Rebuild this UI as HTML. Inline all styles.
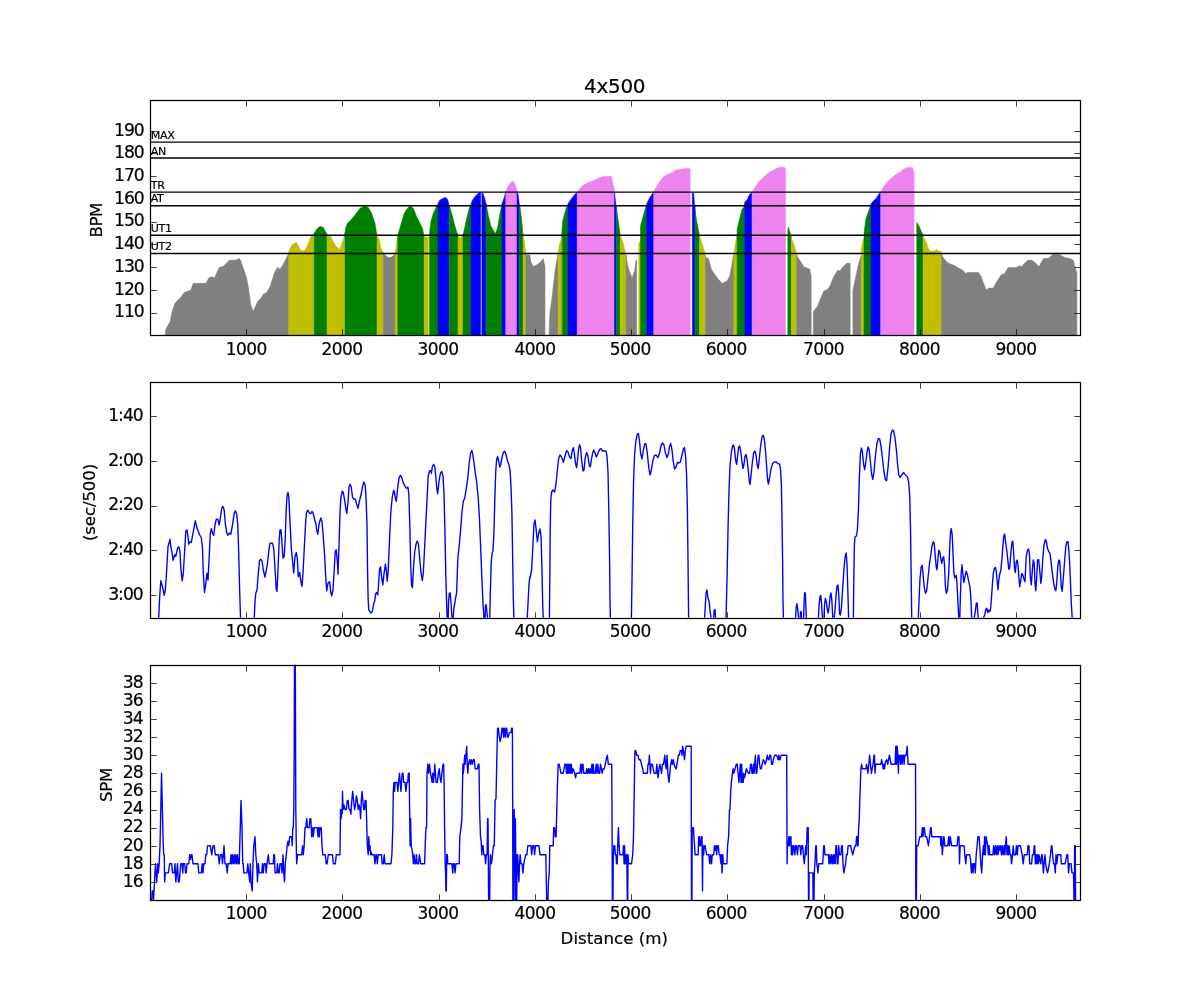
<!DOCTYPE html>
<html><head><meta charset="utf-8"><title>4x500</title><style>html,body{margin:0;padding:0;background:#fff}</style></head><body>
<svg width="1200" height="1000" viewBox="0 0 1200 1000" style="display:block;font-family:'DejaVu Sans','Liberation Sans',sans-serif"><style>text{stroke:#000;stroke-width:0.2px}</style>
<defs><clipPath id="c1"><rect x="150.0" y="100.0" width="930.0" height="235.3"/></clipPath><clipPath id="c2"><rect x="150.0" y="382.4" width="930.0" height="235.3"/></clipPath><clipPath id="c3"><rect x="150.0" y="664.7" width="930.0" height="235.3"/></clipPath></defs>
<rect width="1200" height="1000" fill="#fff"/>
<g clip-path="url(#c1)"><path d="M165,335.3 L165,335 L165.8,329.2 L170,321.7 L172,311.7 L175,303.3 L176.7,301.3 L180,298.3 L184.2,292.5 L190.8,290 L193.3,283.3 L205.8,283.3 L209.2,277.5 L212.5,276.7 L214.2,278.3 L219.2,267.5 L223.3,266.3 L229.2,260.3 L236.7,260 L239.2,258.3 L240.8,260.8 L246.7,278.3 L248.3,286.7 L250.8,305 L253.3,311.3 L257.5,301.7 L260.8,298.3 L263.3,294.2 L266.7,292.5 L270,286.7 L274.2,273.3 L277.5,267.2 L280,269.2 L283.3,264.2 L288.3,254.2 L288.8,254.2 L288.8,335.3Z" fill="#808080" stroke="#808080" stroke-width="0.5"/><path d="M288.8,335.3 L288.8,251.7 L291.7,245 L296.3,242.2 L298.3,245.8 L300.8,250.8 L305,250.8 L307.5,245 L310.8,236.7 L313.7,234.2 L313.8,234.2 L313.8,335.3Z" fill="#bfbf00" stroke="#bfbf00" stroke-width="0.5"/><path d="M313.8,335.3 L313.8,233.8 L316.7,229.2 L320,226.3 L323.3,227.5 L327,234.2 L327,234.2 L327,335.3Z" fill="#008000" stroke="#008000" stroke-width="0.5"/><path d="M327,335.3 L327,234.3 L330.8,236.7 L335,245 L339.2,249.2 L340,249.2 L340,335.3Z" fill="#bfbf00" stroke="#bfbf00" stroke-width="0.5"/><path d="M340,335.3 L340,248.3 L343.3,239.2 L344.5,235.3 L344.5,235.3 L344.5,335.3Z" fill="#bfbf00" stroke="#bfbf00" stroke-width="0.5"/><path d="M344.5,335.3 L344.5,235 L345.8,227.5 L347.5,223.3 L350.8,220 L355,215 L360,208.3 L365,205.8 L368.3,207.5 L371.7,213.3 L375,223.3 L376.8,234.2 L377,234.2 L377,335.3Z" fill="#008000" stroke="#008000" stroke-width="0.5"/><path d="M377,335.3 L377,234.7 L379.2,240 L381.7,250 L383.3,252.5 L383.3,252.5 L383.3,335.3Z" fill="#bfbf00" stroke="#bfbf00" stroke-width="0.5"/><path d="M383.3,335.3 L383.3,252.8 L385,255 L388.3,257.5 L391.7,257 L394.7,254.2 L395,254.2 L395,335.3Z" fill="#808080" stroke="#808080" stroke-width="0.5"/><path d="M395,335.3 L395,253.3 L395.8,248.3 L397.5,236.7 L397.8,236.7 L397.8,335.3Z" fill="#bfbf00" stroke="#bfbf00" stroke-width="0.5"/><path d="M397.8,335.3 L397.8,235.3 L398.3,233.3 L401.7,221.7 L404.2,213.3 L406.7,209.2 L410,205.8 L413.3,208.3 L416.7,216.7 L420,223.3 L422.5,228.3 L423.8,235 L424.2,235 L424.2,335.3Z" fill="#008000" stroke="#008000" stroke-width="0.5"/><path d="M424.2,335.3 L424.2,235.3 L425,236.7 L427.5,237.5 L428.5,236.7 L429.2,236.7 L429.2,335.3Z" fill="#bfbf00" stroke="#bfbf00" stroke-width="0.5"/><path d="M429.2,335.3 L429.2,234.2 L429.5,233.3 L430.8,221.7 L433.3,213.3 L436.7,205.8 L438,205.8 L438,335.3Z" fill="#008000" stroke="#008000" stroke-width="0.5"/><path d="M438,335.3 L438,203.3 L438.3,202.5 L440,200 L445,197.2 L447.5,199.2 L449.2,205 L449.2,205 L449.2,335.3Z" fill="#0000ff" stroke="#0000ff" stroke-width="0.5"/><path d="M449.2,335.3 L449.2,205.3 L451.7,213.3 L454.2,223.3 L456.7,231.7 L458,235 L458,235 L458,335.3Z" fill="#008000" stroke="#008000" stroke-width="0.5"/><path d="M458,335.3 L458,235.3 L459.2,236.7 L460.3,238.3 L462.5,235.8 L463,235.8 L463,335.3Z" fill="#bfbf00" stroke="#bfbf00" stroke-width="0.5"/><path d="M463,335.3 L463,235 L464.2,230 L466.7,218.3 L469.2,208.3 L470.8,205 L470.8,205 L470.8,335.3Z" fill="#008000" stroke="#008000" stroke-width="0.5"/><path d="M470.8,335.3 L470.8,204.7 L472.5,200 L475.8,195.8 L479.2,192.2 L482.5,192.5 L484.2,196.7 L486.2,204.2 L486.2,204.2 L486.2,335.3Z" fill="#0000ff" stroke="#0000ff" stroke-width="0.5"/><path d="M486.2,335.3 L486.2,204.5 L488.3,215 L490.8,225.8 L493.3,230 L495.3,233.7 L497.5,228.3 L500,213.3 L502,204.2 L502,204.2 L502,335.3Z" fill="#008000" stroke="#008000" stroke-width="0.5"/><path d="M502,335.3 L502,203.8 L504.2,197.5 L505.8,191.7 L505.8,191.7 L505.8,335.3Z" fill="#0000ff" stroke="#0000ff" stroke-width="0.5"/><path d="M505.8,335.3 L505.8,191.3 L508.3,185.8 L512.5,180.8 L514.2,182.5 L515.8,186.7 L517,190.8 L517,190.8 L517,335.3Z" fill="#ee82ee" stroke="#ee82ee" stroke-width="0.5"/><path d="M517,335.3 L517,191.2 L518.3,195 L519.2,203.3 L519.2,203.3 L519.2,335.3Z" fill="#0000ff" stroke="#0000ff" stroke-width="0.5"/><path d="M519.2,335.3 L519.2,203.7 L520,206.7 L521.7,220 L523,235 L523,235 L523,335.3Z" fill="#008000" stroke="#008000" stroke-width="0.5"/><path d="M523,335.3 L523,235.3 L524.2,240 L525.3,248.3 L525.8,253.3 L525.8,253.3 L525.8,335.3Z" fill="#bfbf00" stroke="#bfbf00" stroke-width="0.5"/><path d="M525.8,335.3 L525.8,253.7 L526.7,255 L530,255 L530,335.3Z" fill="#808080" stroke="#808080" stroke-width="0.5"/><path d="M530,335.3 L530,256.8 L530.9,262.1 L533.5,266.5 L537,264.7 L540.6,262.1 L543.2,258.6 L544.4,263.8 L545,265.6 L545,265.6 L545,335.3Z" fill="#808080" stroke="#808080" stroke-width="0.5"/><path d="M549,335.3 L549,335.1 L549.7,314.9 L552,297.3 L553.8,281.4 L555.5,267.4 L557.8,255 L558.2,255 L558.2,335.3Z" fill="#808080" stroke="#808080" stroke-width="0.5"/><path d="M558.2,335.3 L558.2,251.5 L559.9,242.7 L561,240.1 L561.7,240.1 L561.7,335.3Z" fill="#bfbf00" stroke="#bfbf00" stroke-width="0.5"/><path d="M561.7,335.3 L561.7,234.8 L562.6,221.6 L564.3,214.6 L566.1,208.4 L567.5,204.9 L567.8,204.9 L567.8,335.3Z" fill="#008000" stroke="#008000" stroke-width="0.5"/><path d="M567.8,335.3 L567.8,204 L571.4,198.7 L574.9,194.3 L577,192.6 L577.2,192.6 L577.2,335.3Z" fill="#0000ff" stroke="#0000ff" stroke-width="0.5"/><path d="M577.2,335.3 L577.2,192 L580.2,188.2 L582.8,185.5 L587.2,182.9 L592.5,181.1 L597.8,178.5 L603,176.4 L611.3,176.2 L612,179.4 L614.1,189 L614.5,189 L614.5,335.3Z" fill="#ee82ee" stroke="#ee82ee" stroke-width="0.5"/><path d="M614.5,335.3 L614.5,192.6 L615.4,200.5 L616.2,206.1 L616.4,206.1 L616.4,335.3Z" fill="#0000ff" stroke="#0000ff" stroke-width="0.5"/><path d="M616.4,335.3 L616.4,206.8 L617.1,212.8 L618.9,225.1 L620.1,234.8 L620.3,234.8 L620.3,335.3Z" fill="#008000" stroke="#008000" stroke-width="0.5"/><path d="M620.3,335.3 L620.3,235.3 L621.5,238.3 L623.3,243.6 L625,250.6 L625.9,254.2 L626.1,254.2 L626.1,335.3Z" fill="#bfbf00" stroke="#bfbf00" stroke-width="0.5"/><path d="M626.1,335.3 L626.1,255 L626.4,258.6 L628.6,269.1 L632.1,278.3 L634.7,270 L636.1,259.4 L636.7,260.3 L636.7,260.3 L636.7,335.3Z" fill="#808080" stroke="#808080" stroke-width="0.5"/><path d="M638.8,335.3 L638.8,335.1 L638.8,242.7 L640.5,241.8 L640.5,241.8 L640.5,335.3Z" fill="#bfbf00" stroke="#bfbf00" stroke-width="0.5"/><path d="M640.5,335.3 L640.5,226.9 L640.9,224.2 L642.6,218.1 L645.3,208.4 L646.2,206.1 L646.5,206.1 L646.5,335.3Z" fill="#008000" stroke="#008000" stroke-width="0.5"/><path d="M646.5,335.3 L646.5,204.9 L647,203.1 L649.7,197.8 L653.2,192.6 L653.7,192.6 L653.7,335.3Z" fill="#0000ff" stroke="#0000ff" stroke-width="0.5"/><path d="M653.7,335.3 L653.7,191.7 L656.7,186.4 L661.1,179.4 L664.6,175.8 L670.8,173.2 L677,169.7 L683.1,168.8 L689.3,168.4 L690.2,169.7 L690.2,169.7 L690.2,335.3Z" fill="#ee82ee" stroke="#ee82ee" stroke-width="0.5"/><path d="M692.3,335.3 L692.3,335.1 L692.3,192.6 L693.7,193.4 L694.6,205.8 L695.1,205.8 L695.1,335.3Z" fill="#0000ff" stroke="#0000ff" stroke-width="0.5"/><path d="M695.1,335.3 L695.1,209.3 L695.4,212.8 L697.2,223.4 L699.3,234.8 L699.5,234.8 L699.5,335.3Z" fill="#008000" stroke="#008000" stroke-width="0.5"/><path d="M699.5,335.3 L699.5,235.7 L700.7,239.2 L703.4,248 L705.1,253.3 L705.3,253.3 L705.3,335.3Z" fill="#bfbf00" stroke="#bfbf00" stroke-width="0.5"/><path d="M705.3,335.3 L705.3,255 L706,257.7 L708.6,258.6 L711.3,269.1 L714.8,274.4 L719.2,280.6 L720,280.6 L720,335.3Z" fill="#808080" stroke="#808080" stroke-width="0.5"/><path d="M720,335.3 L720,281.4 L722.6,283.2 L727,281.1 L729.7,276.2 L731.4,267.4 L733.2,255.9 L733.7,255 L733.9,255 L733.9,335.3Z" fill="#808080" stroke="#808080" stroke-width="0.5"/><path d="M733.9,335.3 L733.9,252.4 L735.8,241 L737.1,233.9 L737.1,233.9 L737.1,335.3Z" fill="#bfbf00" stroke="#bfbf00" stroke-width="0.5"/><path d="M737.1,335.3 L737.1,229.5 L739.4,219.8 L742,209.3 L743.8,207.2 L744.3,206.1 L744.6,206.1 L744.6,335.3Z" fill="#008000" stroke="#008000" stroke-width="0.5"/><path d="M744.6,335.3 L744.6,202.2 L747.3,199.6 L749,195.2 L751.7,192.6 L752,192.6 L752,335.3Z" fill="#0000ff" stroke="#0000ff" stroke-width="0.5"/><path d="M752,335.3 L752,192 L752.6,191.3 L755.2,187.3 L758.7,182 L764,176.7 L769.3,172.3 L774.6,169.2 L779,167.4 L784.2,167 L785.5,168.8 L785.5,168.8 L785.5,335.3Z" fill="#ee82ee" stroke="#ee82ee" stroke-width="0.5"/><path d="M787.8,335.3 L787.8,335.1 L787.8,230.4 L788.3,226.9 L790.4,233.9 L791.3,237.1 L791.3,237.1 L791.3,335.3Z" fill="#008000" stroke="#008000" stroke-width="0.5"/><path d="M791.3,335.3 L791.3,237.4 L793.9,244.5 L796.6,253.3 L796.7,253.3 L796.7,335.3Z" fill="#bfbf00" stroke="#bfbf00" stroke-width="0.5"/><path d="M796.7,335.3 L796.7,254.2 L797.4,256.8 L801,262.1 L803.6,266.5 L807.1,268.2 L809.8,269.1 L811.2,276.2 L811.2,276.2 L811.2,335.3Z" fill="#808080" stroke="#808080" stroke-width="0.5"/><path d="M813.3,335.3 L813.3,335.1 L813.3,311.4 L817.7,306.1 L820.3,299 L823.8,291.1 L827.4,289.4 L830,285.8 L833.5,277 L837.9,270 L839.7,270.9 L843.2,266.5 L846.7,263.3 L849.9,263.3 L850.2,263.3 L850.2,335.3Z" fill="#808080" stroke="#808080" stroke-width="0.5"/><path d="M852.9,335.3 L852.9,335.1 L852.9,290.2 L855.5,277.9 L858.2,265.6 L860.4,257.7 L861,255.9 L861.3,255.9 L861.3,335.3Z" fill="#808080" stroke="#808080" stroke-width="0.5"/><path d="M861.3,335.3 L861.3,248 L861.7,246.2 L863.4,239.2 L864,239.2 L864,335.3Z" fill="#bfbf00" stroke="#bfbf00" stroke-width="0.5"/><path d="M864,335.3 L864,233.9 L864.3,230.4 L866.1,218.1 L868.7,211 L870.5,206.1 L870.8,206.1 L870.8,335.3Z" fill="#008000" stroke="#008000" stroke-width="0.5"/><path d="M870.8,335.3 L870.8,204.9 L871.4,203.1 L874,200.5 L876.6,197.8 L879.3,193.4 L880.5,192.2 L880.7,192.2 L880.7,335.3Z" fill="#0000ff" stroke="#0000ff" stroke-width="0.5"/><path d="M880.7,335.3 L880.7,191.7 L881,191.3 L884.6,185.5 L889,180.2 L894.2,175.8 L899.5,172.3 L900,172.3 L900,335.3Z" fill="#ee82ee" stroke="#ee82ee" stroke-width="0.5"/><path d="M900,335.3 L900,172.3 L903.5,169.2 L907.9,167.4 L912.3,167.4 L913.7,170.6 L914.1,172.3 L914.1,172.3 L914.1,335.3Z" fill="#ee82ee" stroke="#ee82ee" stroke-width="0.5"/><path d="M916.7,335.3 L916.7,335.1 L916.7,223.4 L917.1,222.5 L919.4,226.9 L922,233 L922.9,234.8 L923.1,234.8 L923.1,335.3Z" fill="#008000" stroke="#008000" stroke-width="0.5"/><path d="M923.1,335.3 L923.1,235.3 L923.8,237.4 L926.4,242.7 L929,249.8 L931.7,251.5 L935.2,250.6 L937,249.4 L938.7,251.5 L941.4,251.5 L941.5,251.5 L941.5,335.3Z" fill="#bfbf00" stroke="#bfbf00" stroke-width="0.5"/><path d="M941.5,335.3 L941.5,253.3 L942.2,255.9 L946.6,262.1 L951,264.2 L954.6,265.6 L959,268.2 L962.5,270 L966,273.5 L967.8,272.3 L975.7,272.6 L978.3,272.3 L981,276.2 L983.6,283.2 L986.2,289.9 L988.9,288.1 L993.3,288.1 L996.8,281.4 L1001.2,274.8 L1004.7,273.5 L1008.2,267.4 L1016.2,267.4 L1019.7,265.6 L1021.4,267 L1024.1,263.8 L1027.6,260.3 L1032,260.3 L1035.5,263 L1039,266.5 L1043.4,258.6 L1048.7,258.2 L1053.1,254.2 L1059.3,254.2 L1061.9,255.9 L1065.4,257.7 L1069.8,258.6 L1073.4,260.3 L1075.1,267.4 L1076.9,272.6 L1076.9,272.6 L1076.9,335.3Z" fill="#808080" stroke="#808080" stroke-width="0.5"/><line x1="313.8" x2="313.8" y1="234.5" y2="335.3" stroke="#fff" stroke-opacity="0.45" stroke-width="0.8"/><line x1="344.6" x2="344.6" y1="237" y2="335.3" stroke="#fff" stroke-opacity="0.45" stroke-width="0.8"/><line x1="428.8" x2="428.8" y1="236.5" y2="335.3" stroke="#fff" stroke-opacity="0.8" stroke-width="0.8"/><line x1="481.2" x2="481.2" y1="192" y2="335.3" stroke="#fff" stroke-opacity="0.9" stroke-width="0.8"/><line x1="562" x2="562" y1="238" y2="335.3" stroke="#fff" stroke-opacity="0.45" stroke-width="0.8"/></g>
<line x1="150.0" x2="1080.0" y1="142.1" y2="142.1" stroke="#000" stroke-width="1.39"/>
<text x="150.7" y="138.6" font-size="11.1" letter-spacing="-0.3">MAX</text>
<line x1="150.0" x2="1080.0" y1="158" y2="158" stroke="#000" stroke-width="1.39"/>
<text x="150.7" y="154.6" font-size="11.1" letter-spacing="-0.3">AN</text>
<line x1="150.0" x2="1080.0" y1="192.1" y2="192.1" stroke="#000" stroke-width="1.39"/>
<text x="150.7" y="188.7" font-size="11.1" letter-spacing="-0.3">TR</text>
<line x1="150.0" x2="1080.0" y1="205.7" y2="205.7" stroke="#000" stroke-width="1.39"/>
<text x="150.7" y="202.3" font-size="11.1" letter-spacing="-0.3">AT</text>
<line x1="150.0" x2="1080.0" y1="235.3" y2="235.3" stroke="#000" stroke-width="1.39"/>
<text x="150.7" y="231.9" font-size="11.1" letter-spacing="-0.3">UT1</text>
<line x1="150.0" x2="1080.0" y1="253.5" y2="253.5" stroke="#000" stroke-width="1.39"/>
<text x="150.7" y="250" font-size="11.1" letter-spacing="-0.3">UT2</text>
<g clip-path="url(#c2)"><path d="M158.3,630 L158.7,618 L159.7,596.7 L160.8,580.8 L162,585 L163,589.2 L164.2,595.3 L165.3,590 L166.7,570 L168,546.7 L170,539.2 L170.8,546.7 L172.2,553.3 L173,560.3 L174.7,554.7 L175.8,556.3 L177.5,548.3 L178.8,546.7 L180,551.7 L180.8,568.3 L182.2,580.8 L183.3,573.3 L184.7,550 L185.8,531.3 L187,530 L188,536.7 L188.8,544.2 L190,541.7 L191.3,542.5 L193,533.3 L194.2,526.7 L195.3,520.8 L196.7,526.7 L198,530.8 L199.7,535 L201.3,537.5 L202.5,548.3 L203.3,573.3 L204.5,592.5 L205.8,583.3 L207,573.3 L208,580 L209.2,556.7 L210.3,533.3 L211.3,528.7 L212.5,533.3 L213.7,535.3 L215,525 L216.3,519.2 L217.8,519.2 L219.2,525 L220.3,518.3 L221.7,508.3 L222.8,506.3 L224.2,510 L225.3,523.3 L226.7,532.5 L227.8,535.3 L229.7,533 L230.8,534.2 L232.5,525 L234.2,513.3 L235.3,510.8 L236.7,513.7 L237.8,525 L238.8,556.7 L239.7,591.7 L240.5,618 L240.8,630 M253.7,630 L254.2,618 L255,601.7 L255.8,593.3 L257,590 L258.3,573.3 L259.5,560.8 L260.8,559.2 L262,560.8 L263.3,570 L265,577 L266.2,570.8 L267.5,563.3 L268.7,551.7 L270,543.3 L272.5,543.3 L273.7,548.3 L275,568.3 L276.2,589.2 L277,591.3 L278,570 L279.2,540 L280,530 L281,530 L282,543.3 L283,558 L284.2,556.7 L285.3,536.7 L286.3,506.7 L287.2,495 L288,492.5 L288.8,496.7 L290,521.7 L291.3,548.3 L292.5,560 L293.7,573 L295,556.7 L296.3,552.5 L297.3,558.3 L298.3,576.7 L299.7,572.5 L300.8,580.8 L302,586.3 L303,573.3 L304.7,540 L305.8,520 L306.7,511.7 L308,510.3 L309.7,513.3 L310.8,513.7 L312,511.3 L313.3,513.7 L314.7,520 L315.8,523.3 L316.7,530 L317.8,534.2 L319.2,523.3 L320.8,518 L322,521.7 L323.3,536.7 L324.7,556.7 L325.8,578.3 L326.7,590.8 L328,583.3 L329.7,581.7 L330.8,592.5 L331.7,595.8 L333,590 L334.2,570 L335.3,550.8 L336.3,550 L337.5,563.3 L338,574.2 L339.2,540 L340,512 L340.9,497.6 L342.2,491.3 L343.2,492.2 L344.5,499.4 L345.8,508.4 L346.8,513.4 L348.1,501.2 L349,486.8 L349.9,484.1 L351.2,486.8 L352.6,497.6 L354,499.4 L355.3,499 L356.6,503.9 L358,508.4 L359.4,501.2 L361.2,494 L362.5,486.8 L363.9,481.9 L365.2,485 L366.1,499.4 L367,524.6 L367.5,566 L368.1,598.4 L368.8,610.1 L370.2,611.9 L371.1,613.2 L372.4,611 L373.7,603.8 L374.7,601.1 L375.6,593.9 L376.5,592.6 L377.8,594.8 L378.7,582.2 L379.6,568.7 L380.5,566.9 L381.8,578.6 L382.8,584.9 L384.1,573.2 L385.4,564.2 L386.4,571.4 L387.2,581.3 L388.2,571.4 L389.5,540.8 L390.8,512 L392.2,497.6 L393.6,490.4 L394.5,492.2 L395.4,498.5 L396.3,501.2 L397.6,488.6 L399,477.8 L400.3,475.6 L401.6,476.9 L403,482.3 L404.8,485.9 L406.2,488.2 L407.9,487.2 L408.8,494 L409.8,524.6 L410.7,566 L411.6,585.8 L412.4,587.6 L413.4,569.6 L414.7,551.6 L416,544.4 L417,541.2 L418.3,543.5 L419.6,557 L421,573.2 L422.3,580.4 L423.3,573.2 L424.6,548 L426,519.2 L427.3,494 L428.2,476 L429.5,471 L430.5,470.6 L431.4,473.3 L432.3,467 L433.6,464.3 L434.9,467 L435.9,477.8 L436.8,488.6 L437.7,493.6 L439,481.4 L440.4,473.3 L441.7,471.5 L443,476 L444,494 L444.9,530 L445.8,575 L446.6,602 L447.1,618.2 L447.5,625.4 L448.2,618.2 L448.5,602 L449.3,593.4 L450.2,593 L451.1,603.8 L452,618.2 L452.5,625.4 L453.2,618.2 L453.8,609.2 L455.2,600.2 L456.6,593 L457.9,557 L459.2,546.2 L460.6,530 L462,512 L463.3,501.2 L464.6,498.5 L466,490.4 L467.8,477.8 L469.2,463.4 L470.5,453.5 L471.8,450.4 L472.8,454.4 L474.1,463.4 L475.4,474.2 L476.4,479.6 L478.2,497.6 L479.5,519.2 L480.8,551.6 L481.8,576.8 L483.1,605.6 L484,618.2 L484.5,625.4 L485.1,618.2 L485.4,605.6 L486.2,604.7 L486.9,612.8 L487.6,618.2 L488.7,638 L489.8,618.2 L490.3,593 L491.2,562.4 L492.1,553.4 L493,550.7 L493.9,533.6 L494.8,499.4 L495.7,472.4 L496.6,459.8 L497.7,456.6 L498.8,461.6 L499.8,467 L500.7,464.8 L502,457.1 L503.3,452.6 L504.7,451.3 L506,454.4 L507.4,460.7 L508.8,464.3 L510.1,470.6 L511,486.8 L511.9,512 L512.8,566 L513.3,598.4 L513.9,618.2 L514.2,638 M526.8,638 L527.2,618.2 L528.1,602 L529,584 L529.9,576.8 L530,578 L531.6,570 L533,544 L534,524 L535,520 L536,528 L537.4,541.6 L538.6,534 L540,529 L541,536 L542,570 L542.6,600 L543.2,618 L543.6,640 M549,640 L549.4,618 L549.8,580 L550.2,530 L550.8,500 L551.6,492 L553,490 L554.6,492 L556,484 L557.4,470 L558.6,459 L560,455 L561.6,457 L563.4,462.4 L565,456 L566.6,450.6 L568,452 L569.6,457 L571,458.4 L572.4,450 L573.4,447.6 L574.4,454 L575.6,464 L576.6,467.6 L577.6,460 L578.6,449 L579.6,444.6 L580.6,448 L581.6,460 L583,471 L584,470 L585.2,458 L586.6,452.4 L588,456 L589.2,465 L590.2,467 L591.4,460 L592.6,453 L593.8,450 L595,453 L596.4,457 L598,453 L599.6,449.6 L601,448.6 L602.6,451 L606,451 L607,456 L608,472 L608.8,510 L609.6,560 L610,600 L610.4,618 L610.6,640 M631.2,640 L631.4,618 L632,580 L632.8,520 L633.6,480 L634.6,454 L636,440 L637.4,434 L638.4,433.6 L639.4,440 L640.6,453 L642,459 L643.4,450 L644.8,443.6 L646,444 L647.4,454 L648.8,468 L650,475 L651.4,470 L653,460 L654.4,455.6 L656,455 L658,457.6 L659.6,453 L661.2,445 L662.6,443 L664,445 L665.4,453 L667,457.6 L668.4,454 L669.6,446 L670.8,443.6 L672,450 L673.2,461 L674.6,469 L676,467 L677.4,462.4 L679,463 L680.4,462 L682,455 L683.4,449 L684.4,447.6 L685.6,456 L686.6,476 L687.4,510 L688,560 L688.6,618 L688.8,640 M704.2,640 L704.6,618 L705.4,604 L706.2,592 L707,590 L708,598 L709,601 L710,610 L711,618 L712,632 L713.6,618 L714.2,610 L715,609.6 L715.6,618 L716,640 L725.8,640 L726,618 L727,580 L728,530 L729,490 L730,466 L731.4,452 L732.6,445.6 L733.6,445 L734.6,450 L735.6,460 L736.6,464.4 L737.6,456 L738.6,447 L739.6,446 L740.8,452 L742,462 L743,468.6 L744,464 L745,456 L746,454.4 L747.2,460 L748.4,472 L749.4,482 L750,484.4 L751,476 L752.4,462 L753.6,453 L755,451 L756,455 L757.2,465 L758.2,468.6 L759.2,460 L760.6,446 L762,437 L763.2,435 L764.4,440 L765.6,452 L766.6,466 L767.6,480 L768.4,484 L769.6,478 L771,469 L772.6,463.6 L774.4,462 L776,461.6 L777.6,463.6 L779.6,464 L780.6,470 L781.4,486 L782,520 L782.6,560 L783,600 L783.4,618 L783.6,640 M795.2,640 L795.6,618 L796.2,607 L797,603.6 L797.8,610 L798.6,618 L799.4,628 L800.2,618 L800.6,611.6 L801.2,611.6 L801.6,618 L802.6,632 L803.6,618 L804.2,600 L804.8,592.4 L805.4,594 L806,610 L806.4,618 L806.8,640 M818,640 L818.4,618 L819.2,604 L820,596.4 L820.8,595.6 L821.6,604 L822.4,618 L823.2,628 L824,618 L824.6,604 L825.4,598.4 L826.4,602 L827.4,610 L828.2,613 L829.2,606 L830.2,596 L831,593 L831.8,600 L832.8,618 L833.4,626 L834.2,618 L835,610 L836,596 L837,586 L838,585 L838.8,596 L839.6,614 L840.4,615 L841.4,608 L842.6,590 L844,568 L845.2,556 L846.2,553 L847,564 L848,596 L848.6,618 L849,640 M853.2,640 L853.4,618 L853.8,580 L854.4,544 L855,537 L856.4,536 L857.4,530 L858.4,510 L859.4,476 L860.4,454 L861.4,448 L862.4,452 L863.6,464 L864.6,469.6 L865.6,464 L867,452 L868.2,447 L869.2,450 L870.4,462 L871.6,474 L872.8,479.4 L874,472 L875.4,456 L877,443 L878.4,438.4 L879.6,439 L881,446 L882.4,458 L884,472 L885.4,479.6 L886.6,480.6 L888,468 L889.6,448 L891,434 L892.4,430 L893.6,431 L895,438 L896.4,450 L897.6,464 L898.8,475 L900,477.5 L901.7,475 L903.7,472.5 L905.3,475 L907.5,477 L908.7,482.5 L909.7,495 L910.5,528.3 L911.2,578.3 L911.7,618 L911.8,630 M918.2,630 L918.3,618 L919.2,596.7 L920,578.3 L921.2,566.7 L922.2,565.3 L923,573.3 L924.2,586.7 L925.5,593.3 L926.7,590.8 L928,578.3 L929.5,563.3 L930.8,555 L932.2,545 L933.3,541.7 L934.2,543.3 L935,553.3 L936.2,566.7 L937,569.7 L938,558.3 L938.8,550.3 L939.7,551.7 L940.8,558.3 L941.7,563.3 L942.8,558.3 L943.7,556.7 L944.5,565 L945.3,585 L946.3,593.3 L947.5,590 L948.7,573.3 L949.7,548.3 L950.5,531.7 L951.3,528.7 L952.2,535 L953,553.3 L953.8,571.7 L954.7,578 L956.2,575.3 L957,583.3 L958,603.3 L958.8,618 L959.3,625 L959.8,618 L960.3,600 L961.2,573.3 L962,564.7 L962.8,573.3 L963.8,582.5 L965,576.7 L966.2,571.3 L967.5,575 L968.7,581.7 L970,586.7 L970.8,596.7 L971.7,618 L972.2,630 M973.7,630 L974.2,618 L975.3,611.7 L976.3,603.3 L977.2,603 L977.7,611.7 L978.3,618 L978.8,630 M982.8,630 L983.3,618 L984.7,615 L985.8,609.2 L986.7,608.3 L987.8,612.5 L988.8,610 L989.7,611.7 L990.7,608.3 L991.3,600 L992.5,583.3 L993.3,573.3 L994.5,568 L995.5,567.5 L996.3,571.7 L997.2,581.7 L998,589.7 L998.8,580 L999.7,574.2 L1000.8,570.8 L1002,558.3 L1003,545 L1003.8,535.8 L1004.7,534.2 L1005.5,541.7 L1006.7,550 L1007.8,560 L1008.8,569.2 L1009.7,568.3 L1010.8,553.3 L1012,542 L1012.8,541.3 L1013.7,553.3 L1014.5,568.3 L1015.3,572.5 L1016.3,561.7 L1017.2,560 L1018,565 L1018.8,576.7 L1019.7,586.7 L1020.8,580 L1021.7,573.7 L1022.5,574.2 L1023.7,578.3 L1025,581.7 L1026.2,556.7 L1027.5,550 L1028.7,549.2 L1029.5,555 L1030.3,576.7 L1031.3,584.7 L1032.5,568.3 L1033.3,560 L1034.2,563.3 L1035,583.3 L1035.8,590.8 L1036.7,578.3 L1037.5,560 L1038.7,559.7 L1039.7,570 L1040.8,583.3 L1041.7,576.7 L1042.8,558.3 L1044,545 L1045.3,539.7 L1046.3,540.8 L1047.5,548.3 L1048.8,551.7 L1050,553.3 L1051.2,563.3 L1052.5,574.2 L1053.7,583.3 L1055,589.2 L1055.8,590.8 L1056.7,583.3 L1057.8,566.7 L1058.8,560 L1059.7,560.8 L1060.5,573.3 L1061.3,586.7 L1062.2,591.3 L1063.3,578.3 L1064.7,560 L1065.8,546.7 L1067,541.7 L1068,541.7 L1068.8,550 L1069.7,563.3 L1070.5,583.3 L1071.3,603.3 L1072.2,618 L1072.5,630" fill="none" stroke="#00f" stroke-width="1.39" stroke-linejoin="round"/></g>
<g clip-path="url(#c3)"><path d="M151.7,900 L152.2,891 L153,891 L153.5,900 L154,891 L155,872.9 L155.5,863.8 L156.2,872.9 L156.7,881.9 L157.3,872.9 L157.8,863.8 L158.3,872.9 L159.2,863.8 L160,845.7 L160.8,809.5 L161.5,773.3 L162.2,800.5 L163,836.7 L163.7,854.8 L164.2,854.8 L164.7,881.9 L165.3,872.9 L168.3,872.9 L169.7,863.8 L171.7,863.8 L172.5,872.9 L174.2,872.9 L175,863.8 L175.8,881.9 L176.7,872.9 L177.5,863.8 L178.3,881.9 L179.3,881.9 L180,872.9 L180.8,863.8 L182.2,863.8 L182.8,872.9 L183.3,863.8 L184.7,863.8 L185.5,872.9 L186.2,872.9 L187,863.8 L188.8,863.8 L189.7,854.8 L190.5,859.3 L191.3,854.8 L192,854.8 L193,863.8 L198,863.8 L198.7,872.9 L201.3,872.9 L202.2,863.8 L203,872.9 L203.8,863.8 L205,863.8 L205.8,854.8 L206.7,854.8 L207.5,845.7 L210.3,845.7 L211.7,854.8 L213,845.7 L214.2,845.7 L215.3,854.8 L218.3,854.8 L219.2,863.8 L220.3,854.8 L221.7,854.8 L222.5,863.8 L223.3,854.8 L224,845.7 L224.5,854.8 L225,863.8 L226.2,863.8 L227.2,872.9 L228,863.8 L230.3,863.8 L231,854.8 L231.7,863.8 L232.5,854.8 L233.3,863.8 L234.2,854.8 L235,863.8 L235.8,854.8 L236.7,863.8 L237.5,854.8 L238.3,863.8 L239.2,863.8 L240,836.7 L241,800.5 L242,827.6 L242.7,863.8 L243.3,863.8 L243.8,872.9 L247,872.9 L247.8,863.8 L248.7,872.9 L249.7,881.9 L250.3,863.8 L251,881.9 L252.2,891 L253,863.8 L253.8,845.7 L255,836.7 L255.8,854.8 L256.7,863.8 L257.5,881.9 L258.3,863.8 L259.2,872.9 L261.7,872.9 L262.5,863.8 L263.3,872.9 L264.2,863.8 L265.5,863.8 L266.2,872.9 L267,863.8 L268.3,854.8 L269.2,863.8 L273.3,863.8 L273.8,854.8 L274.5,854.8 L275,872.9 L276.7,872.9 L277.5,863.8 L278.3,872.9 L279.2,872.9 L280,863.8 L281.3,863.8 L282,872.9 L283,854.8 L283.8,872.9 L284.5,881.9 L285.3,863.8 L286.3,854.8 L287.2,845.7 L288,841.2 L288.8,845.7 L289.7,836.7 L291.7,836.7 L292.2,845.7 L292.8,827.6 L293.3,827.6 L293.8,809.5 L294.2,755.2 L294.5,655.7 L295.3,655.7 L295.8,809.5 L296.3,845.7 L296.7,863.8 L297.5,854.8 L301.7,854.8 L302.5,845.7 L303.3,854.8 L304.2,845.7 L305,827.6 L305.8,827.6 L306.7,818.6 L307.5,827.6 L309.2,827.6 L310,818.6 L310.8,818.6 L311.7,836.7 L312.5,827.6 L313.3,836.7 L314.2,827.6 L317.2,827.6 L318,836.7 L318.7,827.6 L319.3,836.7 L320,827.6 L321.2,827.6 L322,845.7 L322.8,854.8 L325.3,854.8 L326.2,863.8 L327,863.8 L328.3,854.8 L332.5,854.8 L333.3,863.8 L335.3,863.8 L336.3,854.8 L339.7,854.8 L340,854.8 L340.5,809.5 L341.1,818.6 L341.6,809.5 L342.2,814 L342.5,791.4 L343.1,809.5 L344,805 L345.1,809.5 L346.4,809.5 L347.3,800.5 L348.2,800.5 L349.1,809.5 L350,809.5 L350.9,814 L351.8,800.5 L352.7,791.4 L353.6,800.5 L354.6,809.5 L355.5,805 L356.4,795.9 L357.3,800.5 L358.2,809.5 L359.1,805 L360,809.5 L360.6,818.6 L361.3,800.5 L362,791.4 L362.8,800.5 L363.7,809.5 L364.6,809.5 L365.1,800.5 L366,800.5 L366.6,818.6 L367.3,845.7 L368.2,854.8 L368.8,836.7 L369.5,850.2 L370,845.7 L370.6,854.8 L371.3,852 L372,854.8 L374.2,854.8 L374.9,863.8 L375.9,854.8 L376.6,854.8 L377.3,863.8 L378.2,854.8 L381.5,854.8 L382.2,863.8 L383.3,863.8 L384.2,854.8 L385,863.8 L391,863.8 L391.9,854.8 L392.8,827.6 L393.3,791.4 L393.9,782.4 L394.6,791.4 L395.1,782.4 L397,782.4 L397.9,791.4 L398.6,782.4 L399.5,773.3 L400.2,782.4 L401,791.4 L401.5,782.4 L402.2,773.3 L403,773.3 L403.7,782.4 L405,782.4 L405.9,791.4 L406.8,782.4 L407.7,782.4 L408.4,773.3 L409.2,773.3 L409.7,818.6 L410.1,845.7 L410.6,818.6 L411.2,845.7 L412.1,850.2 L412.8,854.8 L413.3,863.8 L414.1,854.8 L415,863.8 L415.7,863.8 L416.4,854.8 L417.2,863.8 L418.6,863.8 L419.4,854.8 L420.1,859.3 L420.8,863.8 L424.6,863.8 L425.2,845.7 L425.9,827.6 L426.6,827.6 L427,773.3 L427.9,764.3 L428.6,773.3 L429.5,764.3 L430.5,773.3 L431.4,777.8 L432.1,782.4 L432.8,773.3 L433.5,782.4 L434.3,773.3 L434.8,764.3 L435.4,773.3 L436.1,782.4 L437.4,782.4 L438.3,773.3 L439.2,768.8 L440.1,777.8 L441,782.4 L441.9,773.3 L443,764.3 L443.6,764.3 L444.1,782.4 L444.6,827.6 L445.2,863.8 L445.6,872.9 L445.9,891 L446.3,891 L446.7,854.8 L447.4,854.8 L447.7,863.8 L451.9,863.8 L452.7,872.9 L453.4,863.8 L454.3,863.8 L455,872.9 L455.9,863.8 L459.2,863.8 L459.8,836.7 L461,827.6 L461.9,818.6 L462.9,764.3 L463.4,773.3 L464.1,764.3 L464.7,755.2 L465.2,764.3 L465.9,755.2 L466.7,746.2 L467.2,764.3 L467.8,773.3 L468.5,764.3 L469.6,759.7 L470.5,764.3 L471.4,759.7 L472.3,764.3 L473.4,759.7 L474.3,759.7 L475.2,768.8 L477.4,768.8 L478.3,764.3 L479,764.3 L479.6,809.5 L480.5,836.7 L481.2,841.2 L481.8,854.8 L482.3,845.7 L483.1,845.7 L483.8,854.8 L484.9,854.8 L485.6,863.8 L486.3,854.8 L487.1,854.8 L487.6,818.6 L488,818.6 L488.3,854.8 L488.7,909 L489.6,909 L490,863.8 L490.5,854.8 L491.4,863.8 L492.5,854.8 L493.4,845.7 L494.3,845.7 L495.1,800.5 L496,798.6 L496.9,755.2 L497.6,728.1 L498.3,728.1 L499.4,737.1 L500.2,741.6 L501.1,737.1 L502,728.1 L502.9,728.1 L503.6,737.1 L504.3,728.1 L505.3,737.1 L506,728.1 L506.7,728.1 L507.4,737.1 L508.2,737.1 L509.3,732.6 L511.1,732.6 L511.6,728.1 L512.4,728.1 L512.7,809.5 L512.9,909 L513.3,909 L513.6,845.7 L514.2,809.5 L514.7,845.7 L515.1,909 L515.3,909 L515.4,818.6 L515.8,863.8 L516.2,909 L516.7,909 L517.1,854.8 L517.8,854.8 L518.4,872.9 L518.9,881.9 L519.5,863.8 L520.2,854.8 L520.9,863.8 L522,863.8 L522.9,872.9 L523.8,863.8 L524.7,859.3 L525.6,854.8 L526.9,854.8 L527.8,845.7 L530,845.7 L530.9,845.7 L531.7,854.8 L532.6,845.7 L533.8,845.7 L534.6,854.8 L535.5,845.7 L536.9,845.7 L538.9,845.7 L540,854.8 L545.8,854.8 L546.3,881.9 L546.9,909 L547.7,909 L548.4,881.9 L549.3,872.9 L549.8,845.7 L553.2,845.7 L553.7,827.6 L554.6,827.6 L555.3,836.7 L556.1,836.7 L556.8,809.5 L557.5,782.4 L558.2,764.3 L559.2,764.3 L560.1,768.8 L561,773.3 L563,773.3 L564.1,768.8 L564.9,764.3 L565.8,764.3 L566.5,773.3 L567.2,764.3 L567.8,773.3 L568.5,764.3 L569.2,773.3 L569.9,764.3 L570.6,773.3 L571.3,764.3 L572.1,773.3 L573,768.8 L573.9,770.6 L574.7,773.3 L575.6,777.8 L576.4,773.3 L579.9,773.3 L580.7,764.3 L581.6,773.3 L582.3,764.3 L583,764.3 L583.7,773.3 L585.9,773.3 L586.8,768.8 L587.6,773.3 L588.5,768.8 L589.3,773.3 L590.2,768.8 L591.1,773.3 L591.9,764.3 L592.6,773.3 L593.3,764.3 L594,773.3 L595.4,773.3 L596.2,764.3 L597.1,773.3 L597.9,764.3 L598.8,773.3 L599.7,773.3 L600.5,764.3 L601.4,768.8 L602.2,773.3 L603.1,768.8 L604.3,768.8 L605.3,764.3 L606.5,757.9 L607.4,755.2 L608.3,764.3 L611.7,764.3 L612,809.5 L612.2,863.8 L612.4,909 L612.9,909 L613.2,863.8 L613.8,845.7 L614.8,845.7 L615.3,854.8 L616,854.8 L616.5,863.8 L617.2,863.8 L617.7,845.7 L618.4,827.6 L619.1,845.7 L619.8,854.8 L622.9,854.8 L623.4,845.7 L624.1,863.8 L624.6,845.7 L625.1,863.8 L625.6,854.8 L626.3,863.8 L626.8,854.8 L627.4,909 L627.7,909 L628,854.8 L628.6,863.8 L631.5,863.8 L632.7,854.8 L633.5,836.7 L634.1,800.5 L634.6,764.3 L634.9,750.7 L635.8,750.7 L636.6,755.2 L638,755.2 L638.9,759.7 L640.4,759.7 L641.5,764.3 L642.7,768.8 L643.5,773.3 L647.3,773.3 L648,764.3 L648.7,764.3 L649.4,755.2 L649.9,764.3 L650.4,773.3 L651.1,764.3 L652.5,764.3 L653.2,768.8 L654.2,773.3 L656.1,773.3 L656.8,764.3 L657.5,773.3 L658.1,777.8 L659,768.8 L659.9,764.3 L660.7,768.8 L661.6,773.3 L662.4,764.3 L663.5,764.3 L664.2,759.7 L664.8,755.2 L665.5,764.3 L666.2,768.8 L667.1,755.2 L667.9,773.3 L669,782.4 L669.8,773.3 L670.7,764.3 L671.6,759.7 L672.4,764.3 L673.3,759.7 L674.1,764.3 L675,767 L676.2,768.8 L677.4,761.5 L678.4,755.2 L679.3,755.2 L680.2,750.7 L681.4,750.7 L682,755.2 L682.7,746.2 L683.4,750.7 L684.5,759.7 L685.3,750.7 L686.2,746.2 L691.2,746.2 L691.3,809.5 L691.5,909 L691.9,909 L692.2,827.6 L693.4,827.6 L693.9,836.7 L694.6,845.7 L695.1,854.8 L698.2,854.8 L698.6,836.7 L699.4,836.7 L699.9,845.7 L700.6,845.7 L701.3,836.7 L702,836.7 L702.5,891 L702.9,845.7 L703.7,854.8 L704.2,845.7 L705.1,845.7 L705.8,850.2 L706.8,854.8 L708.9,854.8 L709.7,863.8 L710.6,854.8 L711.5,863.8 L712.3,854.8 L713.7,854.8 L714.4,845.7 L715.2,850.2 L716.1,845.7 L716.6,854.8 L717.5,845.7 L718.3,845.7 L719.2,854.8 L720,854.8 L720.9,863.8 L721.4,854.8 L722.1,872.9 L722.8,854.8 L723.4,863.8 L726.9,863.8 L727.6,845.7 L728.6,836.7 L729.5,809.5 L730,809.5 L730.7,791.4 L731.4,782.4 L732.4,773.3 L733.1,768.8 L733.8,773.3 L734.6,770.6 L735.5,767 L736.3,764.3 L737.2,764.3 L738.1,773.3 L738.9,782.4 L739.6,773.3 L740.3,764.3 L741,782.4 L741.7,764.3 L742.4,782.4 L743.2,782.4 L743.7,773.3 L744.6,777.8 L745.5,773.3 L746.3,768.8 L747.2,770.6 L748.4,773.3 L749.6,773.3 L750.6,764.3 L751.3,764.3 L752,773.3 L752.7,773.3 L753.4,764.3 L754.1,773.3 L754.7,764.3 L755.4,755.2 L756.1,773.3 L756.8,773.3 L757.5,764.3 L758.2,755.2 L758.9,755.2 L759.6,764.3 L760.4,768.8 L761.3,768.8 L762.1,764.3 L763.3,759.7 L764.4,761.5 L765.2,764.3 L766.1,761.5 L767.3,755.2 L768.2,759.7 L769,759.7 L769.9,755.2 L770.7,755.2 L771.6,764.3 L772.5,764.3 L773.3,759.7 L774.7,755.2 L776.4,755.2 L777.3,757 L778.1,759.7 L778.8,755.2 L779.5,759.7 L780.2,759.7 L781.1,755.2 L786.7,755.2 L786.9,809.5 L787.1,863.8 L787.4,845.7 L788.1,845.7 L788.8,836.7 L789.5,845.7 L790.2,836.7 L790.9,836.7 L791.4,854.8 L791.9,845.7 L792.6,854.8 L793.3,845.7 L794,845.7 L794.8,854.8 L795.7,845.7 L796.5,845.7 L797.4,854.8 L798.3,845.7 L800,845.7 L800.8,854.8 L801.7,845.7 L802.6,845.7 L803.4,854.8 L804.3,863.8 L805.1,854.8 L805.7,845.7 L806.3,854.8 L807.2,827.6 L808.2,827.6 L808.4,872.9 L808.6,909 L808.9,909 L809.1,872.9 L812.9,872.9 L813.2,909 L813.9,909 L814.3,872.9 L814.9,863.8 L815.8,845.7 L816.3,845.7 L816.8,863.8 L817.5,868.3 L818,872.9 L818.7,863.8 L822.7,863.8 L823.2,854.8 L823.7,845.7 L824.4,845.7 L824.9,854.8 L828.4,854.8 L829,863.8 L829.7,854.8 L830.6,863.8 L831.5,854.8 L832.3,863.8 L833.2,854.8 L833.9,863.8 L834.6,854.8 L835.2,863.8 L835.9,845.7 L836.6,845.7 L837.3,863.8 L838,863.8 L838.7,845.7 L839.4,854.8 L840.1,854.8 L840.9,854.8 L841.6,845.7 L842.3,845.7 L843,863.8 L843.8,872.9 L844.7,868.3 L845.6,863.8 L846.4,854.8 L847.3,854.8 L848.1,845.7 L850.7,845.7 L851.6,850.2 L852.8,854.8 L853.8,850.2 L855,845.7 L855.9,845.7 L856.6,836.7 L857.3,836.7 L857.6,845.7 L858.1,845.7 L858.6,827.6 L859.3,818.6 L859.8,800.5 L860.4,782.4 L860.9,768.8 L861.6,764.3 L862.4,768.8 L865.9,768.8 L866.5,764.3 L867.4,768.8 L867.9,773.3 L868.8,764.3 L869.6,755.2 L870.5,764.3 L871.4,773.3 L872.2,768.8 L873.1,764.3 L873.9,755.2 L874.5,755.2 L875,773.3 L875.7,764.3 L880.8,764.3 L881.7,759.7 L882.5,764.3 L883.1,768.8 L883.7,764.3 L884.6,768.8 L885.5,761.5 L886.8,759.7 L887.7,764.3 L888.6,759.7 L889.4,755.2 L890.3,759.7 L891.1,764.3 L895.1,764.3 L895.8,746.2 L896.5,764.3 L897.2,746.2 L897.8,755.2 L898.4,773.3 L898.9,755.2 L900,755.2 L900.5,764.3 L901.4,755.2 L902.1,764.3 L902.8,755.2 L903.4,755.2 L904.1,764.3 L904.8,755.2 L906.2,755.2 L907.2,746.2 L908.1,764.3 L915.5,764.3 L915.7,809.5 L915.8,909 L916.3,909 L916.7,845.7 L918.1,845.7 L918.9,841.2 L919.8,836.7 L921.5,836.7 L922.4,827.6 L923,836.7 L923.7,827.6 L924.4,827.6 L925.3,836.7 L926.7,836.7 L927.5,841.2 L928.4,845.7 L929.6,836.7 L930.6,827.6 L931.1,827.6 L931.8,836.7 L940.4,836.7 L940.9,845.7 L941.6,836.7 L942.3,854.8 L943,845.7 L943.5,836.7 L944,836.7 L944.7,845.7 L947.8,845.7 L948.7,836.7 L949.4,845.7 L950.2,836.7 L950.9,841.2 L951.6,845.7 L957.1,845.7 L958,836.7 L959,836.7 L959.5,863.8 L960.2,845.7 L964,845.7 L964.8,854.8 L965.7,863.8 L966.6,854.8 L969.7,854.8 L970.5,859.3 L971.4,872.9 L972.2,863.8 L973.1,872.9 L973.6,863.8 L974.6,863.8 L975.3,872.9 L976.2,854.8 L977.1,845.7 L977.9,836.7 L979.1,836.7 L980,850.2 L980.8,863.8 L981.7,872.9 L982.6,854.8 L983.4,845.7 L983.9,854.8 L984.6,836.7 L985.3,854.8 L986,836.7 L986.9,841.2 L987.7,845.7 L988.4,854.8 L989.1,845.7 L989.8,854.8 L992.9,854.8 L993.7,845.7 L994.6,854.8 L995.5,845.7 L996.3,854.8 L997.2,845.7 L998,854.8 L998.9,845.7 L999.8,850.2 L1000.6,845.7 L1001.5,854.8 L1002.3,845.7 L1003.2,854.8 L1004.1,845.7 L1004.9,854.8 L1005.4,845.7 L1006.3,836.7 L1007,854.8 L1007.7,845.7 L1008.4,854.8 L1009.2,845.7 L1010.1,854.8 L1010.8,854.8 L1011.6,863.8 L1012.5,854.8 L1013.2,845.7 L1013.9,854.8 L1015.6,854.8 L1016.4,845.7 L1017.3,854.8 L1018,845.7 L1020.4,845.7 L1021.3,850.2 L1022.1,854.8 L1023.2,863.8 L1024.2,854.8 L1027.3,854.8 L1028,845.7 L1029,845.7 L1029.7,863.8 L1031.6,863.8 L1032.4,854.8 L1033.5,854.8 L1034.2,845.7 L1034.7,845.7 L1035.4,863.8 L1036.1,854.8 L1036.7,863.8 L1037.6,854.8 L1038.3,863.8 L1039,854.8 L1039.7,859.3 L1040.7,863.8 L1041.6,854.8 L1042.2,854.8 L1042.8,863.8 L1043.4,872.9 L1044.1,863.8 L1045,854.8 L1045.7,863.8 L1046.7,870.1 L1047.6,872.9 L1048.4,868.3 L1049.3,863.8 L1050.5,854.8 L1051.4,845.7 L1051.9,845.7 L1052.6,854.8 L1053.6,863.8 L1054.5,863.8 L1055.3,872.9 L1056,854.8 L1056.9,863.8 L1057.7,854.8 L1060.8,854.8 L1061.3,863.8 L1065.1,863.8 L1066,859.3 L1066.8,854.8 L1067.7,854.8 L1068.6,872.9 L1069.4,863.8 L1071.1,863.8 L1072,872.9 L1073.4,872.9 L1073.7,881.9 L1074.1,909 L1074.4,909 L1074.6,845.7 L1075.3,845.7 L1075.6,909 L1076,909" fill="none" stroke="#00f" stroke-width="1.39" stroke-linejoin="round"/></g>
<rect x="150.5" y="100.5" width="930" height="235" fill="none" stroke="#000" stroke-width="1.25"/>
<text x="246.3" y="354.5" font-size="17" letter-spacing="-0.6" text-anchor="middle">1000</text>
<text x="342" y="354.5" font-size="17" letter-spacing="-0.6" text-anchor="middle">2000</text>
<text x="438" y="354.5" font-size="17" letter-spacing="-0.6" text-anchor="middle">3000</text>
<text x="535" y="354.5" font-size="17" letter-spacing="-0.6" text-anchor="middle">4000</text>
<text x="630.2" y="354.5" font-size="17" letter-spacing="-0.6" text-anchor="middle">5000</text>
<text x="726.2" y="354.5" font-size="17" letter-spacing="-0.6" text-anchor="middle">6000</text>
<text x="823.5" y="354.5" font-size="17" letter-spacing="-0.6" text-anchor="middle">7000</text>
<text x="919.5" y="354.5" font-size="17" letter-spacing="-0.6" text-anchor="middle">8000</text>
<text x="1016" y="354.5" font-size="17" letter-spacing="-0.6" text-anchor="middle">9000</text>
<text x="143.8" y="317.4" font-size="17.2" letter-spacing="-1" text-anchor="end">110</text>
<text x="143.8" y="294.6" font-size="17.2" letter-spacing="-1" text-anchor="end">120</text>
<text x="143.8" y="271.9" font-size="17.2" letter-spacing="-1" text-anchor="end">130</text>
<text x="143.8" y="249.2" font-size="17.2" letter-spacing="-1" text-anchor="end">140</text>
<text x="143.8" y="226.4" font-size="17.2" letter-spacing="-1" text-anchor="end">150</text>
<text x="143.8" y="203.7" font-size="17.2" letter-spacing="-1" text-anchor="end">160</text>
<text x="143.8" y="181" font-size="17.2" letter-spacing="-1" text-anchor="end">170</text>
<text x="143.8" y="158.2" font-size="17.2" letter-spacing="-1" text-anchor="end">180</text>
<text x="143.8" y="135.5" font-size="17.2" letter-spacing="-1" text-anchor="end">190</text>
<path d="M246.5,335.5 v-6.2 M246.5,100.5 v6.2 M342.5,335.5 v-6.2 M342.5,100.5 v6.2 M439.5,335.5 v-6.2 M439.5,100.5 v6.2 M535.5,335.5 v-6.2 M535.5,100.5 v6.2 M631.5,335.5 v-6.2 M631.5,100.5 v6.2 M727.5,335.5 v-6.2 M727.5,100.5 v6.2 M824.5,335.5 v-6.2 M824.5,100.5 v6.2 M920.5,335.5 v-6.2 M920.5,100.5 v6.2 M1016.5,335.5 v-6.2 M1016.5,100.5 v6.2 M150.5,313.5 h6.2 M1080.5,313.5 h-6.2 M150.5,290.5 h6.2 M1080.5,290.5 h-6.2 M150.5,267.5 h6.2 M1080.5,267.5 h-6.2 M150.5,244.5 h6.2 M1080.5,244.5 h-6.2 M150.5,222.5 h6.2 M1080.5,222.5 h-6.2 M150.5,199.5 h6.2 M1080.5,199.5 h-6.2 M150.5,176.5 h6.2 M1080.5,176.5 h-6.2 M150.5,153.5 h6.2 M1080.5,153.5 h-6.2 M150.5,131.5 h6.2 M1080.5,131.5 h-6.2" stroke="#000" stroke-width="0.75" fill="none"/>
<rect x="150.5" y="382.5" width="930" height="236" fill="none" stroke="#000" stroke-width="1.25"/>
<text x="246.3" y="636.8" font-size="17" letter-spacing="-0.6" text-anchor="middle">1000</text>
<text x="342" y="636.8" font-size="17" letter-spacing="-0.6" text-anchor="middle">2000</text>
<text x="438" y="636.8" font-size="17" letter-spacing="-0.6" text-anchor="middle">3000</text>
<text x="535" y="636.8" font-size="17" letter-spacing="-0.6" text-anchor="middle">4000</text>
<text x="630.2" y="636.8" font-size="17" letter-spacing="-0.6" text-anchor="middle">5000</text>
<text x="726.2" y="636.8" font-size="17" letter-spacing="-0.6" text-anchor="middle">6000</text>
<text x="823.5" y="636.8" font-size="17" letter-spacing="-0.6" text-anchor="middle">7000</text>
<text x="919.5" y="636.8" font-size="17" letter-spacing="-0.6" text-anchor="middle">8000</text>
<text x="1016" y="636.8" font-size="17" letter-spacing="-0.6" text-anchor="middle">9000</text>
<text x="142.8" y="420.8" font-size="17.2" letter-spacing="-1" text-anchor="end">1:40</text>
<text x="142.8" y="465.6" font-size="17.2" letter-spacing="-1" text-anchor="end">2:00</text>
<text x="142.8" y="510.4" font-size="17.2" letter-spacing="-1" text-anchor="end">2:20</text>
<text x="142.8" y="555.2" font-size="17.2" letter-spacing="-1" text-anchor="end">2:40</text>
<text x="142.8" y="600" font-size="17.2" letter-spacing="-1" text-anchor="end">3:00</text>
<path d="M246.5,618.5 v-6.2 M246.5,382.5 v6.2 M342.5,618.5 v-6.2 M342.5,382.5 v6.2 M439.5,618.5 v-6.2 M439.5,382.5 v6.2 M535.5,618.5 v-6.2 M535.5,382.5 v6.2 M631.5,618.5 v-6.2 M631.5,382.5 v6.2 M727.5,618.5 v-6.2 M727.5,382.5 v6.2 M824.5,618.5 v-6.2 M824.5,382.5 v6.2 M920.5,618.5 v-6.2 M920.5,382.5 v6.2 M1016.5,618.5 v-6.2 M1016.5,382.5 v6.2 M150.5,416.5 h6.2 M1080.5,416.5 h-6.2 M150.5,461.5 h6.2 M1080.5,461.5 h-6.2 M150.5,506.5 h6.2 M1080.5,506.5 h-6.2 M150.5,550.5 h6.2 M1080.5,550.5 h-6.2 M150.5,595.5 h6.2 M1080.5,595.5 h-6.2" stroke="#000" stroke-width="0.75" fill="none"/>
<rect x="150.5" y="665.5" width="930" height="235" fill="none" stroke="#000" stroke-width="1.25"/>
<text x="246.3" y="919.2" font-size="17" letter-spacing="-0.6" text-anchor="middle">1000</text>
<text x="342" y="919.2" font-size="17" letter-spacing="-0.6" text-anchor="middle">2000</text>
<text x="438" y="919.2" font-size="17" letter-spacing="-0.6" text-anchor="middle">3000</text>
<text x="535" y="919.2" font-size="17" letter-spacing="-0.6" text-anchor="middle">4000</text>
<text x="630.2" y="919.2" font-size="17" letter-spacing="-0.6" text-anchor="middle">5000</text>
<text x="726.2" y="919.2" font-size="17" letter-spacing="-0.6" text-anchor="middle">6000</text>
<text x="823.5" y="919.2" font-size="17" letter-spacing="-0.6" text-anchor="middle">7000</text>
<text x="919.5" y="919.2" font-size="17" letter-spacing="-0.6" text-anchor="middle">8000</text>
<text x="1016" y="919.2" font-size="17" letter-spacing="-0.6" text-anchor="middle">9000</text>
<text x="142.6" y="886.7" font-size="17.2" letter-spacing="-1" text-anchor="end">16</text>
<text x="142.6" y="868.6" font-size="17.2" letter-spacing="-1" text-anchor="end">18</text>
<text x="142.6" y="850.5" font-size="17.2" letter-spacing="-1" text-anchor="end">20</text>
<text x="142.6" y="832.4" font-size="17.2" letter-spacing="-1" text-anchor="end">22</text>
<text x="142.6" y="814.3" font-size="17.2" letter-spacing="-1" text-anchor="end">24</text>
<text x="142.6" y="796.2" font-size="17.2" letter-spacing="-1" text-anchor="end">26</text>
<text x="142.6" y="778.1" font-size="17.2" letter-spacing="-1" text-anchor="end">28</text>
<text x="142.6" y="760" font-size="17.2" letter-spacing="-1" text-anchor="end">30</text>
<text x="142.6" y="741.9" font-size="17.2" letter-spacing="-1" text-anchor="end">32</text>
<text x="142.6" y="723.8" font-size="17.2" letter-spacing="-1" text-anchor="end">34</text>
<text x="142.6" y="705.7" font-size="17.2" letter-spacing="-1" text-anchor="end">36</text>
<text x="142.6" y="687.6" font-size="17.2" letter-spacing="-1" text-anchor="end">38</text>
<path d="M246.5,900.5 v-6.2 M246.5,665.5 v6.2 M342.5,900.5 v-6.2 M342.5,665.5 v6.2 M439.5,900.5 v-6.2 M439.5,665.5 v6.2 M535.5,900.5 v-6.2 M535.5,665.5 v6.2 M631.5,900.5 v-6.2 M631.5,665.5 v6.2 M727.5,900.5 v-6.2 M727.5,665.5 v6.2 M824.5,900.5 v-6.2 M824.5,665.5 v6.2 M920.5,900.5 v-6.2 M920.5,665.5 v6.2 M1016.5,900.5 v-6.2 M1016.5,665.5 v6.2 M150.5,882.5 h6.2 M1080.5,882.5 h-6.2 M150.5,864.5 h6.2 M1080.5,864.5 h-6.2 M150.5,846.5 h6.2 M1080.5,846.5 h-6.2 M150.5,828.5 h6.2 M1080.5,828.5 h-6.2 M150.5,810.5 h6.2 M1080.5,810.5 h-6.2 M150.5,791.5 h6.2 M1080.5,791.5 h-6.2 M150.5,773.5 h6.2 M1080.5,773.5 h-6.2 M150.5,755.5 h6.2 M1080.5,755.5 h-6.2 M150.5,737.5 h6.2 M1080.5,737.5 h-6.2 M150.5,719.5 h6.2 M1080.5,719.5 h-6.2 M150.5,701.5 h6.2 M1080.5,701.5 h-6.2 M150.5,683.5 h6.2 M1080.5,683.5 h-6.2" stroke="#000" stroke-width="0.75" fill="none"/>
<text x="614.7" y="92.5" font-size="20" letter-spacing="-0.3" text-anchor="middle">4x500</text>
<text transform="translate(102,220.3) rotate(-90)" font-size="16.67" letter-spacing="-0.45" text-anchor="middle">BPM</text>
<text transform="translate(95.3,502.5) rotate(-90)" font-size="16.67" letter-spacing="-0.15" text-anchor="middle">(sec/500)</text>
<text transform="translate(112,784.9) rotate(-90)" font-size="16.67" letter-spacing="-0.3" text-anchor="middle">SPM</text>
<text x="614.3" y="944" font-size="16.67" text-anchor="middle">Distance (m)</text>
</svg>
</body></html>
